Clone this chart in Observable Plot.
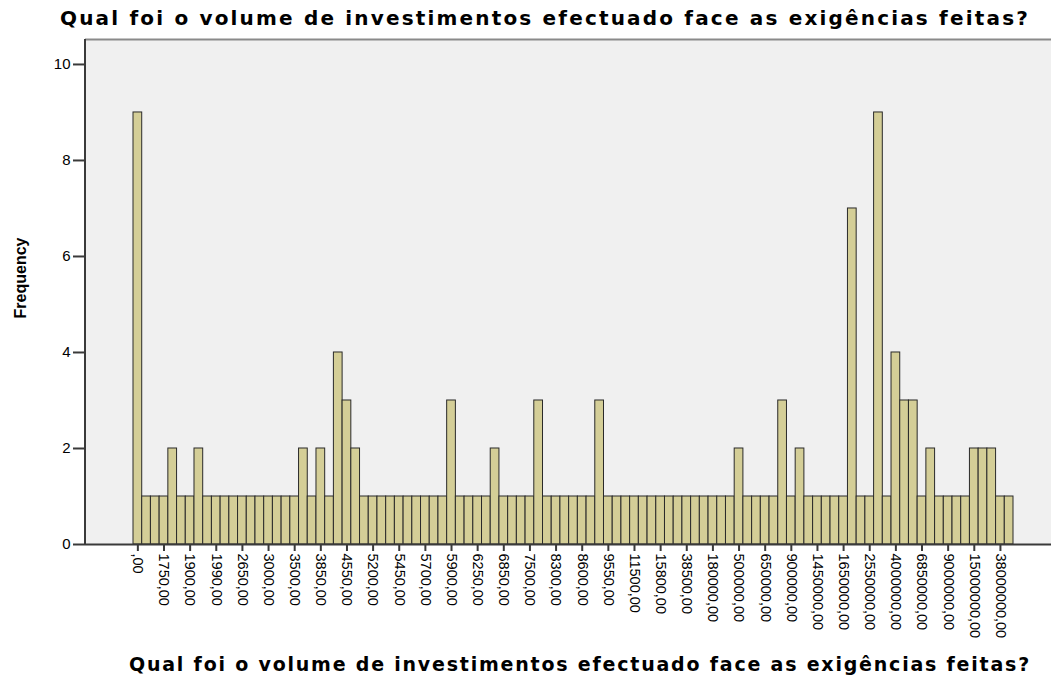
<!DOCTYPE html>
<html>
<head>
<meta charset="utf-8">
<script src="https://cdn.jsdelivr.net/npm/d3@7"></script>
<script src="https://cdn.jsdelivr.net/npm/@observablehq/plot@0.6"></script>
<style>
  html, body { margin: 0; padding: 0; background: #fff; width: 1051px; height: 679px; overflow: hidden; }
  .ttl { position: absolute; white-space: nowrap; font-family: "DejaVu Sans", Verdana, sans-serif; font-weight: bold; color: #000; }
  #title { left: 60px; top: 6px; font-size: 20px; }
  #xtitle { left: 129px; top: 653px; font-size: 19px; }
  #chart { position: absolute; left: 0; top: 30px; }
</style>
</head>
<body>
<div id="title" class="ttl">Qual foi o volume de investimentos efectuado face as exigências feitas?</div>
<div id="chart"></div>
<div id="xtitle" class="ttl">Qual foi o volume de investimentos efectuado face as exigências feitas?</div>
<script>
// Frequency of each of the 101 distinct values (bars, left to right)
const frequencies = [
  9,1,1,1,2,1,1,2,1,1,
  1,1,1,1,1,1,1,1,1,2,
  1,2,1,4,3,2,1,1,1,1,
  1,1,1,1,1,1,3,1,1,1,
  1,2,1,1,1,1,3,1,1,1,
  1,1,1,3,1,1,1,1,1,1,
  1,1,1,1,1,1,1,1,1,2,
  1,1,1,1,3,1,2,1,1,1,
  1,1,7,1,1,9,1,4,3,3,
  1,2,1,1,1,1,2,2,2,1,
  1
];
// Labels shown on every third bar
const tickLabels = [
  ",00","1750,00","1900,00","1990,00","2650,00","3000,00","3500,00","3850,00",
  "4550,00","5200,00","5450,00","5700,00","5900,00","6250,00","6850,00","7500,00",
  "8300,00","8600,00","9550,00","11500,00","15800,00","38500,00","180000,00",
  "500000,00","650000,00","900000,00","1450000,00","1650000,00","2550000,00",
  "4000000,00","6850000,00","9000000,00","15000000,00","38000000,00"
];
const yTicks = [0, 2, 4, 6, 8, 10];
const labelStep = 3;

const data = frequencies.map((f, i) => ({i, f}));
const yMax = 10.52;

const leftBorder = (index, scales, values, dims) => {
  const l = d3.create("svg:line")
    .attr("x1", dims.marginLeft).attr("x2", dims.marginLeft)
    .attr("y1", dims.marginTop).attr("y2", dims.height - dims.marginBottom)
    .attr("stroke", "#3a3a3a").attr("stroke-width", 2);
  return l.node();
};

const chart = Plot.plot({
  width: 1051,
  height: 618,
  marginLeft: 85,
  marginRight: 0,
  marginTop: 9,
  marginBottom: 104,
  style: { fontFamily: "'Liberation Sans', Arial, sans-serif", fontSize: "14px", color: "#000", background: "transparent" },
  x: { type: "band", domain: d3.range(frequencies.length), range: [133, 1013], padding: 0 },
  y: { domain: [0, yMax] },
  marks: [
    Plot.frame({ fill: "#f0f0f0", stroke: "none" }),
    Plot.ruleY([yMax], { stroke: "#8a8a8a", strokeWidth: 2 }),
    Plot.barY(data, { x: "i", y: "f", fill: "#d4ce97", stroke: "#2a2a2a", strokeWidth: 1 }),
    Plot.ruleY([0], { stroke: "#3a3a3a", strokeWidth: 2 }),
    leftBorder,
    Plot.axisY({ ticks: yTicks, tickSize: 12, tickPadding: 3, fontSize: 15, stroke: "#3a3a3a", strokeWidth: 2, label: null }),
    Plot.axisX({
      ticks: d3.range(0, frequencies.length, labelStep),
      tickFormat: i => tickLabels[i / labelStep],
      tickRotate: 90, tickSize: 7, tickPadding: 2, fontSize: 14.5,
      stroke: "#3a3a3a", strokeWidth: 2, label: null
    }),
    Plot.text(["Frequency"], { frameAnchor: "left", textAnchor: "middle", dx: -65, dy: -14, rotate: -90, fontSize: 16, fontWeight: "bold", fill: "#000" })
  ]
});
document.getElementById("chart").appendChild(chart);

// fit the two title lines to the widths they take in the original
function fit(id, w) {
  const el = document.getElementById(id);
  const n = el.textContent.length;
  const natural = el.getBoundingClientRect().width;
  el.style.letterSpacing = ((w - natural) / n) + "px";
}
fit("title", 970);
fit("xtitle", 902);
</script>
</body>
</html>
